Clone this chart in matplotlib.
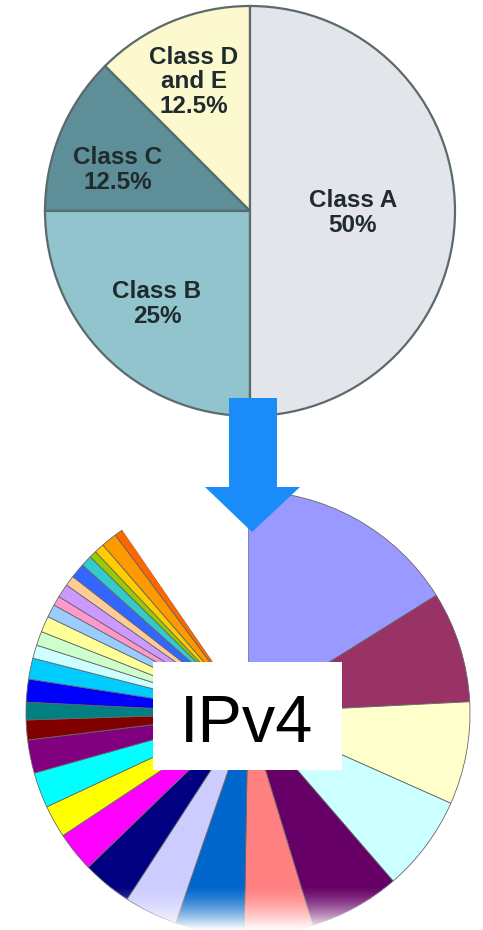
import numpy as np
import matplotlib
matplotlib.use('Agg')
import matplotlib.pyplot as plt
from matplotlib.patches import Polygon, Rectangle

W, H = 483, 930

# top pie: classful split of the address space
class_labels = ['Class D\nand E\n12.5%', 'Class C\n12.5%', 'Class B\n25%', 'Class A\n50%']
class_shares = [12.5, 12.5, 25, 50]
class_colors = ['#fdf9cf', '#5e8e97', '#92c4ce', '#e4e4eb']

# bottom pie: IPv4 blocks (shares, in degrees of the circle)
block_shares = [58, 29.1, 26.9, 25.2, 23.8, 18, 18, 14, 13, 10.5,
                8.5, 9.3, 8.7, 5.2, 4.6, 6, 5.5, 3.5, 3.7, 4.2,
                3.4, 2.5, 3.6, 2.7, 3.9, 2.9, 1.9, 2.6, 4.1, 2.2]
block_colors = ['#9999ff', '#993366', '#ffffcc', '#ccffff', '#660066',
                '#ff8080', '#0066cc', '#ccccff', '#000080', '#ff00ff',
                '#ffff00', '#00ffff', '#800080', '#800000', '#008080',
                '#0000ff', '#00ccff', '#ccffff', '#ccffcc', '#ffff99',
                '#99ccff', '#ff99cc', '#cc99ff', '#ffcc99', '#3366ff',
                '#33cccc', '#99cc00', '#ffcc00', '#ff9900', '#ff6600']
unallocated_share = 34.5


def py(y):
    # picture rows -> data y
    return H - y


fig = plt.figure(figsize=(W / 100, H / 100), dpi=100)
ax = fig.add_axes([0, 0, 1, 1])

# --- top pie
ax.pie(class_shares, colors=class_colors, startangle=90, counterclock=True,
       center=(250, py(211)), radius=205,
       wedgeprops=dict(edgecolor='#5b6a6c', linewidth=1.6))

label_xy = [(194, 82), (118, 170), (157, 304), (353, 213)]
for lab, (x, y) in zip(class_labels, label_xy):
    ax.text(x, py(y), lab, ha='center', va='center', fontsize=17.5,
            fontweight='bold', family='Liberation Sans', color='#1f2b2d',
            linespacing=1.1, zorder=3)

# --- bottom pie
wedges, _ = ax.pie(block_shares + [unallocated_share],
                   colors=block_colors + ['white'], startangle=90,
                   counterclock=False, center=(248, py(713)), radius=222,
                   wedgeprops=dict(edgecolor='#666666', linewidth=0.6))
wedges[-1].set_edgecolor('none')

# white fade at the bottom edge
grad = np.zeros((64, 2, 4))
grad[..., :3] = 1.0
grad[..., 3] = np.linspace(0, 1, 64)[:, None] ** 1.5
ax.imshow(grad, extent=(0, W, 0, py(885)), aspect='auto', zorder=4)

# label box
ax.add_patch(Rectangle((153, py(770)), 189, 108, facecolor='white',
                       edgecolor='none', zorder=5))
ax.text(247, py(742), 'IPv4', ha='center', va='baseline', fontsize=48,
        family='Liberation Sans', color='black', zorder=6)

# --- arrow between the two pies
arrow = [(229, 398), (277, 398), (277, 487), (300, 487), (252, 532),
         (205, 487), (229, 487)]
ax.add_patch(Polygon([(x, py(y)) for x, y in arrow], closed=True,
                     facecolor='#1a8cf7', edgecolor='none', zorder=7))

ax.set_xlim(0, W)
ax.set_ylim(0, H)
ax.set_aspect('auto')
ax.axis('off')

fig.savefig('out.png', dpi=100)
